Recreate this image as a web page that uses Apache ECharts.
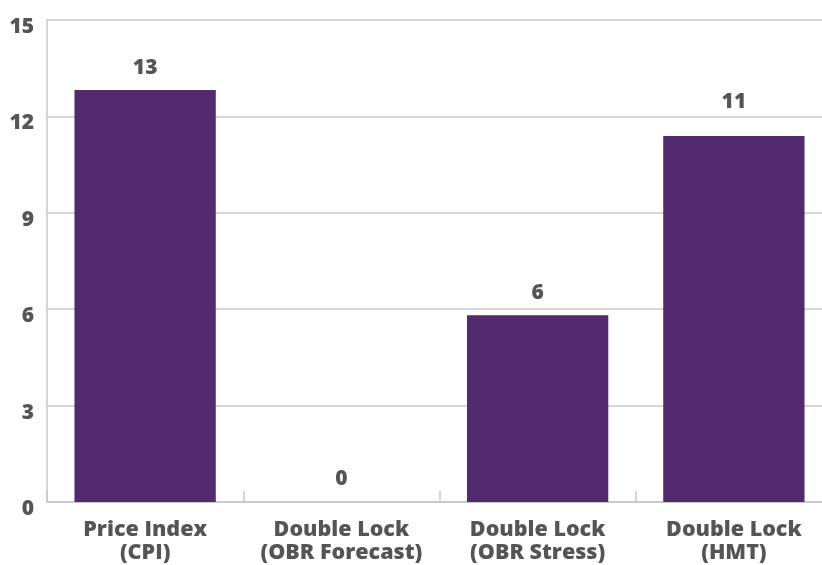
<!DOCTYPE html>
<html><head><meta charset="utf-8">
<script src="https://cdn.jsdelivr.net/npm/echarts@6/dist/echarts.min.js"></script>
<style>html,body{margin:0;padding:0;background:#fff}#c{width:822px;height:565px}</style>
</head><body><div id="c"></div>
<script>
const categories = ["Price Index\n(CPI)", "Double Lock\n(OBR Forecast)", "Double Lock\n(OBR Stress)", "Double Lock\n(HMT)"];
const values = [12.82, 0, 5.81, 11.39];
const yTicks = { min: 0, max: 15, interval: 3 };

const FONT = "'Open Sans', 'Noto Sans', sans-serif";
// label lifted above the gridline when it would overlap it (as in the original)
const seriesData = values.map((v, i) => i === 3 ? { value: v, label: { distance: 23 } } : v);

const chart = echarts.init(document.getElementById('c'), null, { renderer: 'canvas' });
chart.setOption({
  animation: false,
  grid: { left: 47, width: 785, top: 20, height: 482, containLabel: false, outerBoundsMode: 'none' },
  xAxis: {
    type: 'category', data: categories,
    axisLine: { lineStyle: { color: '#c8c8c8', width: 1.5 } },
    axisTick: { show: true, inside: true, length: 11, interval: 0, lineStyle: { color: '#c8c8c8', width: 1.5 } },
    axisLabel: { color: '#555555', fontFamily: FONT, fontWeight: 800, fontSize: 21.5, lineHeight: 23, margin: 16, interval: 0 }
  },
  yAxis: {
    type: 'value', min: yTicks.min, max: yTicks.max, interval: yTicks.interval,
    axisLine: { show: true, lineStyle: { color: '#c8c8c8', width: 1.5 } },
    axisTick: { show: false },
    splitLine: { lineStyle: { color: '#c8c8c8', width: 1.5 } },
    axisLabel: { color: '#555555', fontFamily: FONT, fontWeight: 800, fontSize: 21, margin: 13, verticalAlign: 'top', lineHeight: 14 }
  },
  series: [{
    type: 'bar', data: seriesData, barWidth: '72%',
    itemStyle: { color: '#522A6D' },
    label: { show: true, position: 'top', distance: 12, color: '#555555', fontFamily: FONT, fontWeight: 800, fontSize: 21,
      formatter: p => Math.round(p.value) }
  }]
});
</script></body></html>
